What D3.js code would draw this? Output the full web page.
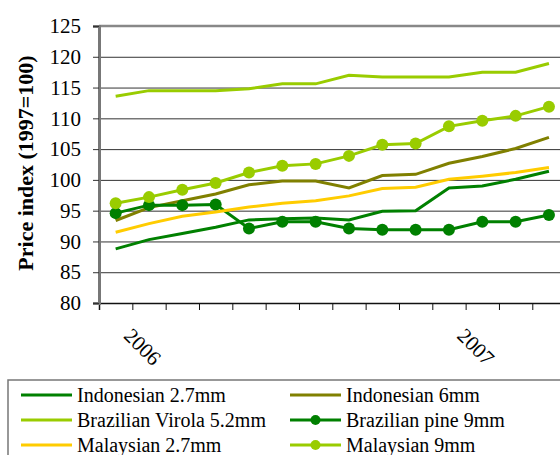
<!DOCTYPE html>
<html>
<head>
<meta charset="utf-8">
<script src="https://cdn.jsdelivr.net/npm/d3@7"></script>
<style>
  body { margin: 0; background: #fff; }
  svg { display: block; }
  text { font-family: "Liberation Serif", "DejaVu Serif", serif; }
  .grid line { stroke: #333; stroke-width: 1; }
  .grid .domain { display: none; }
</style>
</head>
<body>
<svg id="chart" width="560" height="455"></svg>
<script>
// monthly points, only two year labels shown
const periods = d3.range(14);
const yearLabels = [{ at: 0, text: "2006" }, { at: 10, text: "2007" }];
const yTicks = [80, 85, 90, 95, 100, 105, 110, 115, 120, 125];

const indonesian27 = [88.8, 90.3, 91.3, 92.3, 93.5, 93.7, 93.8, 93.5, 94.9, 95.0, 98.7, 99.0, 100.1, 101.4];
const indonesian6 = [93.4, 95.5, 96.6, 97.7, 99.2, 99.8, 99.8, 98.7, 100.7, 100.9, 102.7, 103.8, 105.1, 106.9];
const brazilianVirola = [113.6, 114.5, 114.5, 114.5, 114.8, 115.6, 115.6, 117.0, 116.7, 116.7, 116.7, 117.5, 117.5, 118.9];
const brazilianPine = [94.6, 95.9, 95.9, 96.0, 92.1, 93.2, 93.2, 92.1, 91.9, 91.9, 91.9, 93.2, 93.2, 94.3];
const malaysian27 = [91.5, 92.9, 94.1, 94.8, 95.6, 96.2, 96.6, 97.4, 98.6, 98.8, 100.1, 100.6, 101.2, 102.0];
const malaysian9 = [96.2, 97.2, 98.4, 99.5, 101.2, 102.3, 102.6, 103.9, 105.7, 105.9, 108.7, 109.6, 110.4, 111.9];

const series = [
  { name: "Indonesian 2.7mm", values: indonesian27, color: "#008000", dots: false },
  { name: "Indonesian 6mm", values: indonesian6, color: "#808000", dots: false },
  { name: "Brazilian Virola 5.2mm", values: brazilianVirola, color: "#99cc00", dots: false },
  { name: "Brazilian pine 9mm", values: brazilianPine, color: "#008000", dots: true },
  { name: "Malaysian 2.7mm", values: malaysian27, color: "#ffcc00", dots: false },
  { name: "Malaysian 9mm", values: malaysian9, color: "#99cc00", dots: true }
];

const plotLeft = 99, plotTop = 26, plotBottom = 303;
const step = 33.33;
const serif = '"Liberation Serif", "DejaVu Serif", serif';

const svg = d3.select("#chart");

// x is linear over slot edges, points sit in the middle of each slot
const x = d3.scaleLinear().domain([0, 14]).range([plotLeft, plotLeft + 14 * step]);
const y = d3.scaleLinear().domain([80, 125]).range([plotBottom, plotTop]);

svg.append("g")
  .attr("class", "grid")
  .attr("transform", `translate(${plotLeft},0)`)
  .call(d3.axisLeft(y).tickValues(yTicks.slice(1, -1)).tickSize(-(560 - plotLeft)).tickFormat(""));

// top border
svg.append("line")
  .attr("x1", plotLeft).attr("x2", 560)
  .attr("y1", y(125)).attr("y2", y(125))
  .style("stroke", "#888").style("stroke-width", 2.5);

// x axis
const xAxis = svg.append("g")
  .attr("transform", `translate(0,${plotBottom})`)
  .call(d3.axisBottom(x).tickValues(d3.range(15)).tickSize(7).tickFormat(""));
xAxis.select(".domain").style("stroke", "#111").style("stroke-width", 1.5);
xAxis.selectAll(".tick line").style("stroke", "#111");

svg.append("g")
  .selectAll("text")
  .data(yearLabels)
  .join("text")
  .attr("transform", d => `translate(${x(d.at + 0.5) + 7},${plotBottom + 34}) rotate(45)`)
  .attr("text-anchor", "start")
  .style("font-family", serif)
  .style("font-size", "21px")
  .style("fill", "#000")
  .text(d => d.text);

// y axis
const yAxis = svg.append("g")
  .attr("transform", `translate(${plotLeft},0)`)
  .call(d3.axisLeft(y).tickValues(yTicks).tickSize(6).tickPadding(12));
yAxis.select(".domain").style("stroke", "#777").style("stroke-width", 3);
yAxis.selectAll(".tick line").style("stroke", "#333");
yAxis.selectAll(".tick text")
  .style("font-size", "21px")
  .style("font-family", serif)
  .style("fill", "#000");

svg.append("text")
  .attr("transform", `translate(33,163) rotate(-90)`)
  .attr("text-anchor", "middle")
  .style("font-family", serif)
  .style("font-size", "22px")
  .style("font-weight", "bold")
  .text("Price index (1997=100)");

const line = d3.line()
  .x((d, i) => x(i + 0.5))
  .y(d => y(d));

series.forEach(s => {
  svg.append("path")
    .datum(s.values)
    .attr("d", line)
    .style("fill", "none")
    .style("stroke", s.color)
    .style("stroke-width", 3);
  if (s.dots) {
    svg.append("g")
      .selectAll("circle")
      .data(s.values)
      .join("circle")
      .attr("cx", (d, i) => x(i + 0.5))
      .attr("cy", d => y(d))
      .attr("r", 6)
      .style("fill", s.color);
  }
});

// legend
svg.append("rect")
  .attr("x", 8).attr("y", 380)
  .attr("width", 600).attr("height", 120)
  .style("fill", "#fff")
  .style("stroke", "#777")
  .style("stroke-width", 1.5);

const legend = svg.append("g")
  .selectAll("g")
  .data(series)
  .join("g")
  .attr("transform", (d, i) => `translate(${i % 2 === 0 ? 21 : 290},${395 + Math.floor(i / 2) * 25})`);

legend.append("line")
  .attr("x1", 0).attr("x2", 51)
  .style("stroke", d => d.color)
  .style("stroke-width", 3);

legend.filter(d => d.dots)
  .append("circle")
  .attr("cx", 25.5)
  .attr("r", 5)
  .style("fill", d => d.color);

legend.append("text")
  .attr("x", 56)
  .attr("y", 7)
  .style("font-family", serif)
  .style("font-size", "20px")
  .text(d => d.name);
</script>
</body>
</html>
